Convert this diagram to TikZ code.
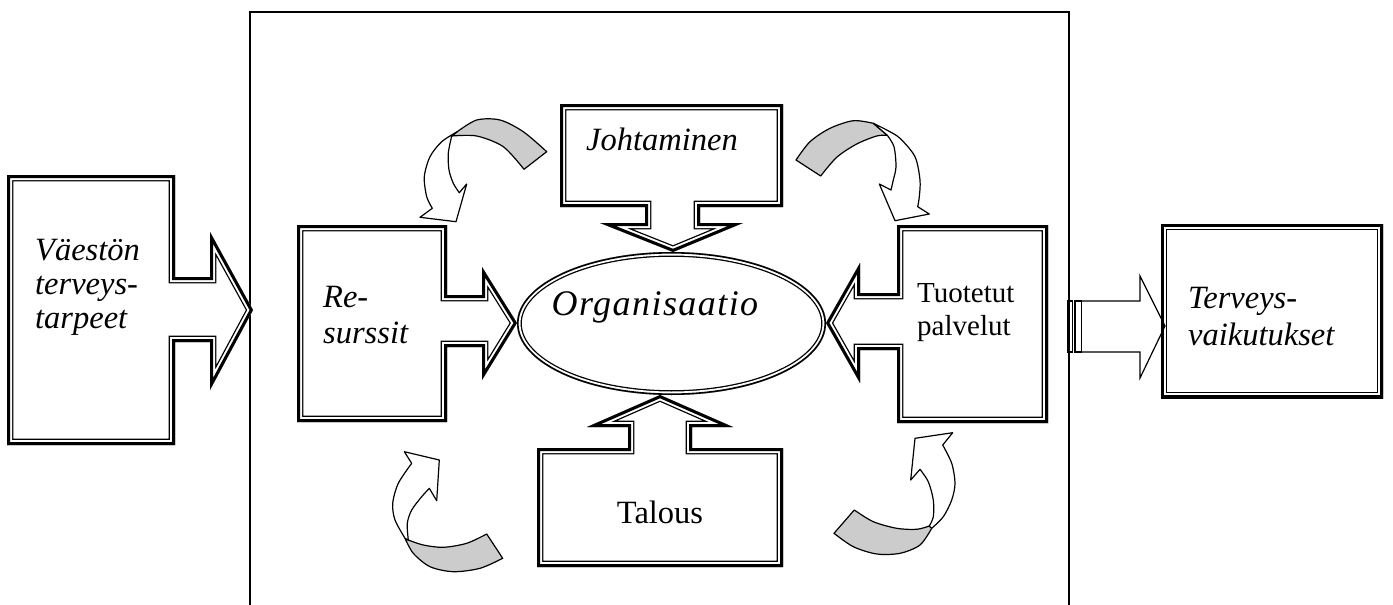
\documentclass[tikz,border=0pt]{standalone}
\usepackage{fontspec}
\setmainfont{Liberation Serif}
\newcommand\dblshape[1]{%
  \begin{scope}
    \clip #1;
    \draw[line width=12.6pt, miter limit=40] #1;
    \draw[white, line width=10pt, miter limit=40] #1;
    \draw[line width=6pt, miter limit=40] #1;
  \end{scope}}
\newcommand\dblellipse[1]{%
  \begin{scope}
    \clip #1;
    \draw[line width=9.6pt] #1;
    \draw[white, line width=7pt] #1;
    \draw[line width=3.2pt] #1;
  \end{scope}}
\tikzset{
  lbl/.style={inner sep=0pt, anchor=base west, font=\fontsize{32.5}{34}\selectfont},
  clbl/.style={inner sep=0pt, anchor=base, font=\fontsize{32.5}{34}\selectfont},
  band/.style={fill=gray!40, draw=black, line width=1.2pt, line join=round},
  curarrow/.style={fill=white, draw=black, line width=1.2pt, line join=round},
}
\begin{document}
\begin{tikzpicture}[x=1pt, y=-1pt]
\useasboundingbox (0,0) rectangle (1393,605);
% frame
\draw[line width=1.8pt] (250,605) -- (250,12) -- (1069,12) -- (1069,605);

% Vaeston callout
\dblshape{(7,175) -- (175,175) -- (175,277) -- (210,277) -- (210,232) -- (253,310) -- (210,390) -- (210,342) -- (175,342) -- (175,445) -- (7,445) -- cycle}
% Resurssit callout
\dblshape{(297,225) -- (447,225) -- (447,295) -- (482,295) -- (482,267) -- (517,323) -- (482,380) -- (482,347) -- (447,347) -- (447,422) -- (297,422) -- cycle}
% Tuotetut callout
\dblshape{(1048,225) -- (897,225) -- (897,293) -- (860,293) -- (860,263) -- (826,323) -- (860,383) -- (860,350) -- (897,350) -- (897,423) -- (1048,423) -- cycle}
% Johtaminen callout
\dblshape{(560,104) -- (783,104) -- (783,207) -- (700,207) -- (700,223) -- (743,223) -- (673,252) -- (600,223) -- (645,223) -- (645,207) -- (560,207) -- cycle}
% Talous callout
\dblshape{(537,567) -- (537,448) -- (628,448) -- (628,427) -- (587,427) -- (660,395) -- (733,427) -- (692,427) -- (692,448) -- (783,448) -- (783,567) -- cycle}
% Organisaatio ellipse
\dblellipse{(671.5,323.5) ellipse [x radius=154.5, y radius=71.5]}
% Terveysvaikutukset box
\dblshape{(1161,224) rectangle (1383,398)}

% striped arrow
\draw[line width=1.2pt] (1068,301) rectangle (1072.3,352);
\draw[line width=1.2pt] (1075,301) rectangle (1081.7,352);
\draw[line width=1.2pt, line join=miter] (1081.7,301) -- (1140,301) -- (1140,276) -- (1165,326) -- (1140,378) -- (1140,352) -- (1081.7,352);

% curved arrow top-left
\draw[band] plot[smooth] coordinates {(546.7,151.7) (523.3,131.7) (500,120) (476.7,120) (457.3,131.7)}
  -- plot[smooth] coordinates {(451.7,136) (476.7,136) (503.3,146.7) (524,169.3)} -- cycle;
\draw[curarrow] plot[smooth] coordinates {(457.3,131.7) (441.7,141.7) (430,156.7) (424.3,176.7) (426.7,196.7) (432.3,208.3)}
  -- (420,217.3) -- (456,221.7) -- (466.7,184)
  -- plot[smooth] coordinates {(459.3,192.7) (453.3,183.3) (449,170) (448.3,153.3) (451.7,136)} -- cycle;

% curved arrow top-right
\draw[band] plot[smooth] coordinates {(796,160) (810,141.7) (830,128.3) (853.3,120.7) (873.3,123.3)}
  -- plot[smooth] coordinates {(887.3,135.3) (876.7,136) (856.7,144) (836.7,157.3) (820.7,176)} -- cycle;
\draw[curarrow] plot[smooth] coordinates {(873.3,123.3) (886.7,130) (900,138.3) (915,156.7) (920,180) (919.3,196.7) (917.7,206.7)}
  -- (929.3,214) -- (895,220.7) -- (879.3,184)
  -- plot[smooth] coordinates {(891,190) (893.3,180) (896,166.7) (894,146.7) (887.3,135.3)} -- cycle;

% curved arrow bottom-left
\draw[band] plot[smooth] coordinates {(502.7,558.3) (480,568.3) (453.3,571.7) (430,566.7) (413.3,553.3) (405,538.3)}
  -- plot[smooth] coordinates {(408.3,540) (423.3,545) (443.3,547.3) (466.7,543.3) (486.7,534)} -- cycle;
\draw[curarrow] plot[smooth] coordinates {(405,538.3) (395,520) (392.7,503.3) (398.3,483.3) (411.7,463.3)}
  -- (404.3,451.7) -- (439.3,460) -- (436.7,500.7)
  -- plot[smooth] coordinates {(429.3,488.3) (421.7,496.7) (411.7,510) (407.3,523.3) (408.3,540)} -- cycle;

% curved arrow bottom-right
\draw[band] plot[smooth] coordinates {(834,533.3) (853.3,546.7) (876.7,554) (900,553.3) (920,545) (931.7,528.3)}
  -- plot[smooth] coordinates {(929.3,526) (916.7,529.3) (896.7,528.3) (873.3,521.7) (854.3,510)} -- cycle;
\draw[curarrow] plot[smooth] coordinates {(931.7,528.3) (943.3,516.7) (951.7,500) (955,483.3) (951.7,463.3) (942.7,445)}
  -- (952.7,432.7) -- (915,438.3) -- (910.7,480)
  -- plot[smooth] coordinates {(920,469.3) (928.3,481.7) (933.3,500) (933.3,516.7) (929.3,526)} -- cycle;

% labels
\node[lbl] (vaeston) at (35,260) {\vtop{\itshape\hbox{Väestön}\hbox{terveys-}\hbox{tarpeet}}};
\node[lbl] (resurssit) at (323,307) {\vtop{\itshape\baselineskip=36pt\hbox{Re-}\hbox{surssit}}};
\node[clbl, font=\fontsize{36}{40}\selectfont] (organisaatio) at (655,315) {\itshape\addfontfeature{LetterSpace=4}Organisaatio};
\node[clbl] (johtaminen) at (662,150) {\itshape Johtaminen};
\node[lbl, font=\fontsize{29}{33}\selectfont] (tuotetut) at (917,302) {\vtop{\baselineskip=33pt\hbox{Tuotetut}\hbox{palvelut}}};
\node[clbl] (talous) at (660,523) {Talous};
\node[lbl] (terveys) at (1188,308) {\vtop{\itshape\baselineskip=37pt\hbox{Terveys-}\hbox{vaikutukset}}};
\end{tikzpicture}
\end{document}
